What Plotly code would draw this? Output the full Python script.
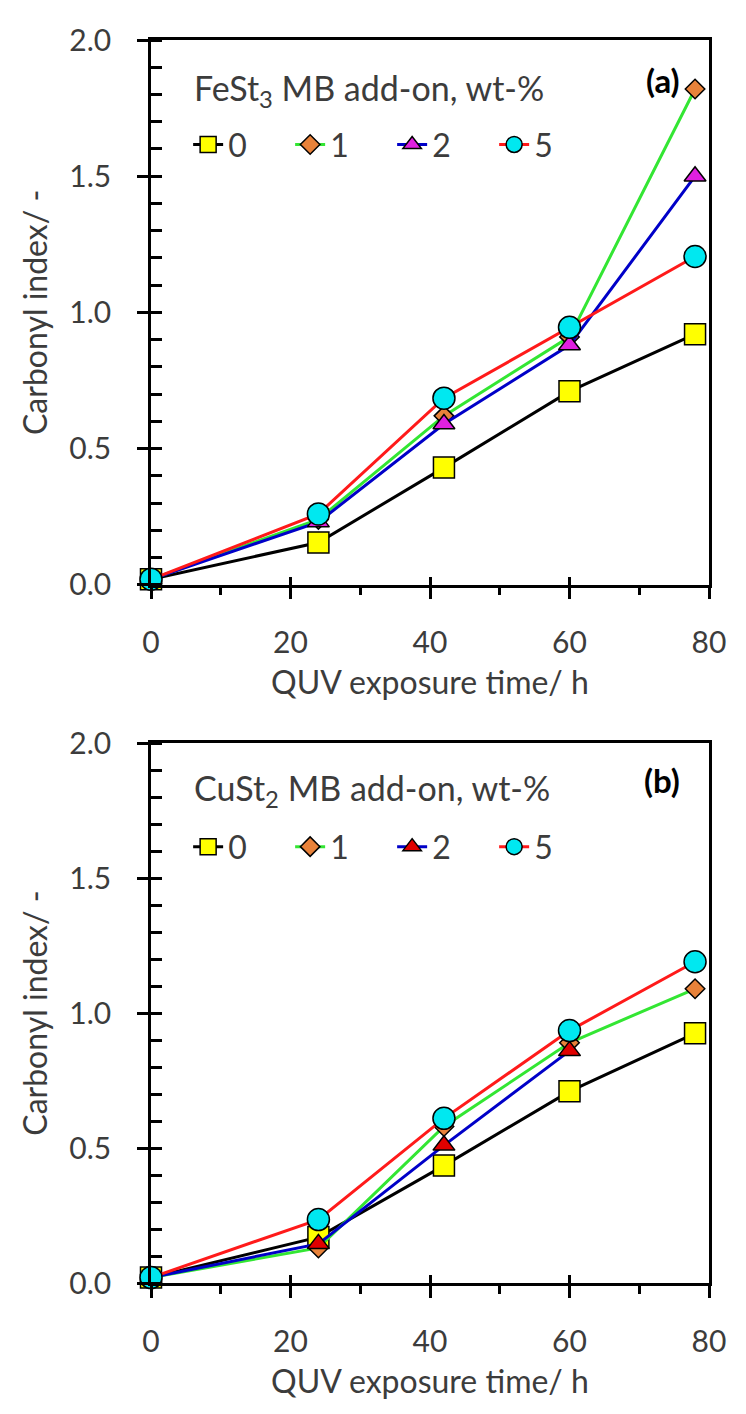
import plotly.graph_objects as go

# ---------------- data ----------------
time_h = [0, 24, 42, 60, 78]
series_labels = ["0", "1", "2", "5"]

fest3_0 = [0.02, 0.155, 0.43, 0.71, 0.92]
fest3_1 = [0.02, 0.24, 0.62, 0.91, 1.82]
fest3_2 = [0.02, 0.23, 0.59, 0.88, 1.50]
fest3_5 = [0.02, 0.26, 0.685, 0.945, 1.205]

cust2_0 = [0.02, 0.17, 0.435, 0.71, 0.925]
cust2_1 = [0.02, 0.13, 0.58, 0.89, 1.09]
cust2_2 = [0.02, 0.145, 0.51, 0.86, None]
cust2_5 = [0.02, 0.235, 0.61, 0.935, 1.19]

x_tick_vals = [0, 20, 40, 60, 80]
y_tick_vals = [0, 0.5, 1.0, 1.5, 2.0]
y_tick_text = ["0.0", "0.5", "1.0", "1.5", "2.0"]

legend_title_a = "FeSt<sub>3</sub> MB add-on, wt-%"
legend_title_b = "CuSt<sub>2</sub> MB add-on, wt-%"
panel_a = "<b>(a)</b>"
panel_b = "<b>(b)</b>"
x_title = "QUV exposure time/ h"
y_title = "Carbonyl index/ -"

# ---------------- styles ----------------
FONT = "Lato"
TXT = "#3c3c3c"
line_colors = ["#000000", "#33e633", "#0000c8", "#ff1a1a"]
symbols = ["square", "diamond", "triangle-up", "circle"]
sizes = [21, 15, 19, 22]
fills_a = ["#ffff00", "#e8823a", "#e020e0", "#00e8f0"]
fills_b = ["#ffff00", "#e8823a", "#e00000", "#00e8f0"]

# page body has an 8px margin: work in screen pixels and subtract it
OFF = 8
W, H = 746 - 2 * OFF, 1414 - 2 * OFF
ML = 151 - OFF
MR = W - (722 - OFF)
MT = 21 - OFF
MB = H - (1292 - OFF)
plot_w = W - ML - MR
plot_h = H - MT - MB


def fy(screen_y):
    """screen row -> paper fraction"""
    return (H - MB - (screen_y - OFF)) / plot_h


def fx(screen_x):
    return (screen_x - OFF - ML) / plot_w


fig = go.Figure()

panels = [
    ("x", "y", [fest3_0, fest3_1, fest3_2, fest3_5], fills_a, "legend"),
    ("x2", "y2", [cust2_0, cust2_1, cust2_2, cust2_5], fills_b, "legend2"),
]
for xa, ya, data, fills, lg in panels:
    for i, vals in enumerate(data):
        fig.add_trace(go.Scatter(
            x=time_h, y=vals, xaxis=xa, yaxis=ya,
            name=series_labels[i], legend=lg,
            mode="lines+markers", cliponaxis=False,
            line=dict(color=line_colors[i], width=3),
            marker=dict(symbol=symbols[i], size=sizes[i], color=fills[i],
                        line=dict(color="#000000", width=1.5)),
        ))

# empty traces so that the overlay (inside-tick) axes get drawn
for xa, ya in [("x3", "y3"), ("x4", "y4")]:
    fig.add_trace(go.Scatter(x=[None], y=[None], xaxis=xa, yaxis=ya, mode="lines",
                             showlegend=False, hoverinfo="skip"))

tickfont = dict(family=FONT, size=30, color=TXT)
titlefont = dict(family=FONT, size=32, color=TXT)


def xaxis_main(anchor):
    return dict(
        range=[0, 80], anchor=anchor, tickmode="array", tickvals=x_tick_vals,
        ticks="outside", ticklen=12, tickwidth=2.5, tickcolor="#000",
        minor=dict(dtick=10, tick0=0, ticks="outside", ticklen=8, tickwidth=2.5, tickcolor="#000"),
        showline=True, linewidth=2.5, linecolor="#000", mirror=True,
        showgrid=False, zeroline=False, tickfont=tickfont, ticklabelstandoff=18,
        ticklabeloverflow="allow",
        title=dict(text=x_title, font=titlefont, standoff=14),
    )


def yaxis_main(anchor, dom):
    return dict(
        range=[0, 2], anchor=anchor, domain=dom, tickmode="array",
        tickvals=y_tick_vals, ticktext=y_tick_text,
        ticks="outside", ticklen=11, tickwidth=2.5, tickcolor="#000",
        minor=dict(dtick=0.1, tick0=0, ticks="inside", ticklen=11, tickwidth=2.5, tickcolor="#000"),
        showline=True, linewidth=2.5, linecolor="#000", mirror=True,
        showgrid=False, zeroline=False, tickfont=tickfont, ticklabelstandoff=20,
        ticklabeloverflow="allow",
        title=dict(text=y_title, font=titlefont, standoff=13),
    )


def x_overlay(over, anchor):
    return dict(range=[0, 80], overlaying=over, anchor=anchor, tickmode="array",
                tickvals=x_tick_vals, ticks="inside", ticklen=8, tickwidth=2.5,
                tickcolor="#000", showticklabels=False, showline=False,
                showgrid=False, zeroline=False)


def y_overlay(over, anchor, dom):
    return dict(range=[0, 2], overlaying=over, anchor=anchor, tickmode="array",
                tickvals=y_tick_vals, ticks="inside", ticklen=11, tickwidth=2.5,
                tickcolor="#000", showticklabels=False, showline=False,
                showgrid=False, zeroline=False)


dom_top = [fy(578), 1.0]
dom_bot = [0.0, fy(740)]

LEG_FONT = 32
legend_common = dict(
    orientation="h", xanchor="left", yanchor="middle", bgcolor="rgba(0,0,0,0)",
    font=dict(family=FONT, size=LEG_FONT, color=TXT), itemwidth=30,
    entrywidth=57, entrywidthmode="pixels", tracegroupgap=0,
)

fig.update_layout(
    width=W, height=H, margin=dict(l=ML, r=MR, t=MT, b=MB),
    paper_bgcolor="white", plot_bgcolor="white", showlegend=True,
    xaxis=xaxis_main("y"),
    yaxis=yaxis_main("x", dom_top),
    xaxis2=xaxis_main("y2"),
    yaxis2=yaxis_main("x2", dom_bot),
    xaxis3=x_overlay("x", "y"),
    yaxis3=y_overlay("y", "x", dom_top),
    xaxis4=x_overlay("x2", "y2"),
    yaxis4=y_overlay("y2", "x2", dom_bot),
    legend=dict(legend_common, x=fx(189), y=fy(128)),
    legend2=dict(legend_common, x=fx(189), y=fy(846)),
    annotations=[
        dict(text=legend_title_a, xref="paper", yref="paper", x=fx(193), y=fy(72),
             xanchor="left", yanchor="middle", showarrow=False,
             font=dict(family=FONT, size=34, color=TXT)),
        dict(text=legend_title_b, xref="paper", yref="paper", x=fx(193), y=fy(788),
             xanchor="left", yanchor="middle", showarrow=False,
             font=dict(family=FONT, size=34, color=TXT)),
        dict(text=panel_a, xref="paper", yref="paper", x=fx(694), y=fy(62),
             xanchor="right", yanchor="middle", showarrow=False,
             font=dict(family=FONT, size=33, color="#000")),
        dict(text=panel_b, xref="paper", yref="paper", x=fx(694), y=fy(778),
             xanchor="right", yanchor="middle", showarrow=False,
             font=dict(family=FONT, size=33, color="#000")),
    ],
)

fig.write_html("out.html")
